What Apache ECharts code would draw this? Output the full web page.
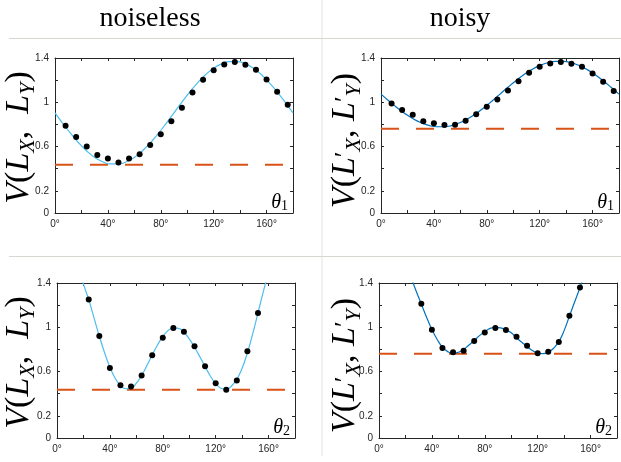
<!DOCTYPE html>
<html>
<head>
<meta charset="utf-8">
<script src="https://cdn.jsdelivr.net/npm/echarts@6/dist/echarts.min.js"></script>
<style>
  html, body { margin: 0; padding: 0; background: #fff; }
  #chart { width: 621px; height: 462px; }
</style>
</head>
<body>
<div id="chart"></div>
<script>
// ---- data ----
const xMin = 0;
const xMax = 180;
const xLabelValues = [0, 40, 80, 120, 160];
const yLabelValues = [0, 0.2, 0.6, 1, 1.4];

// theta_1 row: fitted curve + measured points
const curveAnglesTop = [0, 6, 12, 18, 24, 30, 36, 42, 48, 54, 60, 66, 72, 78, 84, 90,
  96, 102, 108, 114, 120, 126, 132, 138, 144, 150, 156, 162, 168, 174, 180];
const noiselessCurve1 = [0.905, 0.808, 0.716, 0.632, 0.560, 0.502, 0.463, 0.443, 0.443, 0.463, 0.502,
  0.560, 0.632, 0.716, 0.808, 0.905, 1.002, 1.094, 1.178, 1.251, 1.308, 1.347, 1.367, 1.367,
  1.347, 1.308, 1.251, 1.178, 1.094, 1.002, 0.905];
const noisyCurve1 = [1.074, 1.012, 0.953, 0.899, 0.853, 0.817, 0.792, 0.779, 0.779, 0.792, 0.817,
  0.853, 0.899, 0.953, 1.012, 1.074, 1.136, 1.195, 1.249, 1.295, 1.331, 1.357, 1.369, 1.369,
  1.357, 1.331, 1.295, 1.249, 1.195, 1.136, 1.074];
const dotAnglesTop = [8, 16, 24, 32, 40, 48, 56, 64, 72, 80, 88, 96, 104, 112, 120, 128, 136,
  144, 152, 160, 168, 176];
const noiselessDots1 = [0.789, 0.687, 0.600, 0.525, 0.492, 0.456, 0.492, 0.531, 0.615, 0.711, 0.828,
  0.951, 1.089, 1.203, 1.290, 1.341, 1.365, 1.338, 1.293, 1.206, 1.095, 0.978];
const noisyDots1 = [0.990, 0.930, 0.888, 0.828, 0.810, 0.795, 0.798, 0.834, 0.891, 0.960, 1.026,
  1.107, 1.191, 1.266, 1.320, 1.350, 1.365, 1.347, 1.320, 1.260, 1.185, 1.101];

// theta_2 row
const curveAnglesBottom = [12, 16, 20, 24, 28, 32, 36, 40, 44, 48, 52, 56, 60, 64, 68, 72, 76, 80,
  84, 88, 92, 96, 100, 104, 108, 112, 116, 120, 124, 128, 132, 136, 140, 144, 148, 152, 156,
  160, 164, 168];
const noiselessCurve2 = [1.70, 1.55, 1.39, 1.25, 1.085, 0.92, 0.77, 0.64, 0.54, 0.475, 0.445, 0.45,
  0.495, 0.565, 0.655, 0.75, 0.84, 0.915, 0.97, 0.995, 0.99, 0.955, 0.895, 0.82, 0.735, 0.645,
  0.56, 0.49, 0.45, 0.44, 0.47, 0.53, 0.63, 0.77, 0.94, 1.13, 1.32, 1.50, 1.68, 1.86];
const noisyCurve2 = [1.88, 1.74, 1.60, 1.46, 1.33, 1.21, 1.09, 0.98, 0.89, 0.82, 0.78, 0.765,
  0.775, 0.80, 0.84, 0.88, 0.925, 0.96, 0.99, 1.0, 0.995, 0.975, 0.95, 0.905, 0.865, 0.825,
  0.79, 0.768, 0.762, 0.775, 0.81, 0.87, 0.97, 1.10, 1.23, 1.36, 1.50, 1.65, 1.80, 1.95];
const noiselessDotAngles2 = [24, 32, 40, 48, 56, 64, 72, 80, 88, 96, 104, 112, 120, 128, 136, 144, 152];
const noiselessDots2 = [1.251, 0.921, 0.633, 0.477, 0.465, 0.564, 0.747, 0.906, 0.993, 0.960,
  0.828, 0.648, 0.495, 0.435, 0.519, 0.783, 1.128];
const noisyDotAngles2 = [32, 40, 48, 56, 64, 72, 80, 88, 96, 104, 112, 120, 128, 136, 144, 152];
const noisyDots2 = [1.212, 0.978, 0.813, 0.774, 0.789, 0.876, 0.954, 0.993, 0.975, 0.915, 0.834,
  0.765, 0.780, 0.867, 1.104, 1.359];

// dashed lower bounds
const noiselessBound = 0.435;
const noisyBound = 0.76;

// ---- layout ----
const axisColor = '#262626';
const serif = 'Liberation Serif';
const zip = (xs, ys) => xs.map((x, i) => [x, ys[i]]);

const panels = [
  { box: { left: 55, top: 58, width: 238, height: 155 }, cx: curveAnglesTop, cy: noiselessCurve1,
    dx: dotAnglesTop, dy: noiselessDots1, bound: noiselessBound, color: '#4DBEEE', noisy: false, sub: '1', titleX: 19 },
  { box: { left: 381, top: 58, width: 238, height: 155 }, cx: curveAnglesTop, cy: noisyCurve1,
    dx: dotAnglesTop, dy: noisyDots1, bound: noisyBound, color: '#0072BD', noisy: true, sub: '1', titleX: 345 },
  { box: { left: 57, top: 283, width: 238, height: 155 }, cx: curveAnglesBottom, cy: noiselessCurve2,
    dx: noiselessDotAngles2, dy: noiselessDots2, bound: noiselessBound, color: '#4DBEEE', noisy: false, sub: '2', titleX: 19 },
  { box: { left: 379, top: 283, width: 238, height: 155 }, cx: curveAnglesBottom, cy: noisyCurve2,
    dx: noisyDotAngles2, dy: noisyDots2, bound: noisyBound, color: '#0072BD', noisy: true, sub: '2', titleX: 345 }
];

const grid = [];
const xAxis = [];
const yAxis = [];
const series = [];
const graphic = [];

const lineStyle = { color: axisColor, width: 1 };

panels.forEach((p, i) => {
  grid.push(Object.assign({ outerBoundsMode: 'none', containLabel: false }, p.box));
  // bottom + mirrored top
  xAxis.push({
    gridIndex: i, type: 'value', min: xMin, max: xMax, interval: 20, position: 'bottom',
    axisLine: { show: true, lineStyle: lineStyle },
    axisTick: { show: true, inside: true, length: 3, lineStyle: lineStyle },
    splitLine: { show: false },
    axisLabel: {
      show: true, margin: 6, color: axisColor, fontSize: 10, fontFamily: 'Liberation Sans',
      formatter: v => (xLabelValues.indexOf(v) >= 0 ? v + '°' : '')
    }
  });
  xAxis.push({
    gridIndex: i, type: 'value', min: xMin, max: xMax, interval: 20, position: 'top',
    axisLine: { show: true, onZero: false, lineStyle: lineStyle },
    axisTick: { show: true, inside: true, length: 3, lineStyle: lineStyle },
    splitLine: { show: false }, axisLabel: { show: false }
  });
  yAxis.push({
    gridIndex: i, type: 'value', min: 0, max: 1.4, interval: 0.2, position: 'left',
    axisLine: { show: true, onZero: false, lineStyle: lineStyle },
    axisTick: { show: true, inside: true, length: 3, lineStyle: lineStyle },
    splitLine: { show: false },
    axisLabel: {
      show: true, margin: 6, color: axisColor, fontSize: 10, fontFamily: 'Liberation Sans',
      formatter: v => {
        const r = Math.round(v * 10) / 10;
        return yLabelValues.indexOf(r) >= 0 ? String(r) : '';
      }
    }
  });
  yAxis.push({
    gridIndex: i, type: 'value', min: 0, max: 1.4, interval: 0.2, position: 'right',
    axisLine: { show: true, onZero: false, lineStyle: lineStyle },
    axisTick: { show: true, inside: true, length: 3, lineStyle: lineStyle },
    splitLine: { show: false }, axisLabel: { show: false }
  });

  const xi = i * 2;
  const yi = i * 2;
  series.push({
    type: 'line', xAxisIndex: xi, yAxisIndex: yi, z: 1, showSymbol: false, silent: true,
    data: [[xMin, p.bound], [xMax, p.bound]],
    lineStyle: { color: '#D95319', width: 2, type: [18, 17] }
  });
  series.push({
    type: 'line', xAxisIndex: xi, yAxisIndex: yi, z: 2, showSymbol: false, smooth: true, clip: true,
    data: zip(p.cx, p.cy),
    lineStyle: { color: p.color, width: 1.2 }
  });
  series.push({
    type: 'scatter', xAxisIndex: xi, yAxisIndex: yi, z: 3, symbolSize: 6,
    data: zip(p.dx, p.dy),
    itemStyle: { color: '#000', opacity: 1 }
  });

  // y title, rotated
  const main = { fontFamily: serif, fontSize: 34, lineHeight: 40, color: '#000' };
  const ital = Object.assign({}, main, { fontStyle: 'italic' });
  const sub = { fontFamily: serif, fontStyle: 'italic', fontSize: 22, lineHeight: 22, verticalAlign: 'bottom', color: '#000' };
  const prime = { fontFamily: serif, fontSize: 26, lineHeight: 40, color: '#000' };
  const text = p.noisy
    ? '{i|V}{n|(}{i|L}{p|′}{s|X}{n|, }{i|L}{p|′}{s|Y}{n|)}'
    : '{i|V}{n|(}{i|L}{s|X}{n|,  }{i|L}{s|Y}{n|)}';
  graphic.push({
    type: 'text', x: p.titleX, y: p.box.top + p.box.height / 2 + (p.noisy ? 5 : 2), rotation: Math.PI / 2,
    style: { text: text, align: 'center', verticalAlign: 'middle', rich: { i: ital, n: main, s: sub, p: prime } }
  });
  // theta label
  graphic.push({
    type: 'text', x: p.box.left + p.box.width - 5, y: p.box.top + p.box.height,
    style: {
      text: '{t|θ}{s|' + p.sub + '}', align: 'right', verticalAlign: 'bottom',
      rich: {
        t: { fontFamily: serif, fontStyle: 'italic', fontSize: 20, lineHeight: 20, color: '#000' },
        s: { fontFamily: serif, fontSize: 14, lineHeight: 14, verticalAlign: 'bottom', color: '#000' }
      }
    }
  });
});

// column titles and separators
graphic.push(
  { type: 'line', shape: { x1: 322, y1: 0, x2: 322, y2: 456 }, style: { stroke: '#e2e2e2', lineWidth: 1 } },
  { type: 'line', shape: { x1: 9, y1: 38.5, x2: 621, y2: 38.5 }, style: { stroke: '#d9d5d1', lineWidth: 1 } },
  { type: 'line', shape: { x1: 9, y1: 256.5, x2: 621, y2: 256.5 }, style: { stroke: '#d9d5d1', lineWidth: 1 } },
  { type: 'text', x: 150, y: 19, style: { text: 'noiseless', font: '28px "Liberation Serif"', fill: '#000', align: 'center', verticalAlign: 'middle' } },
  { type: 'text', x: 460, y: 19, style: { text: 'noisy', font: '28px "Liberation Serif"', fill: '#000', align: 'center', verticalAlign: 'middle' } }
);

const myChart = echarts.init(document.getElementById('chart'));
myChart.setOption({
  animation: false,
  backgroundColor: '#fff',
  grid: grid,
  xAxis: xAxis,
  yAxis: yAxis,
  series: series,
  graphic: graphic
});
</script>
</body>
</html>
